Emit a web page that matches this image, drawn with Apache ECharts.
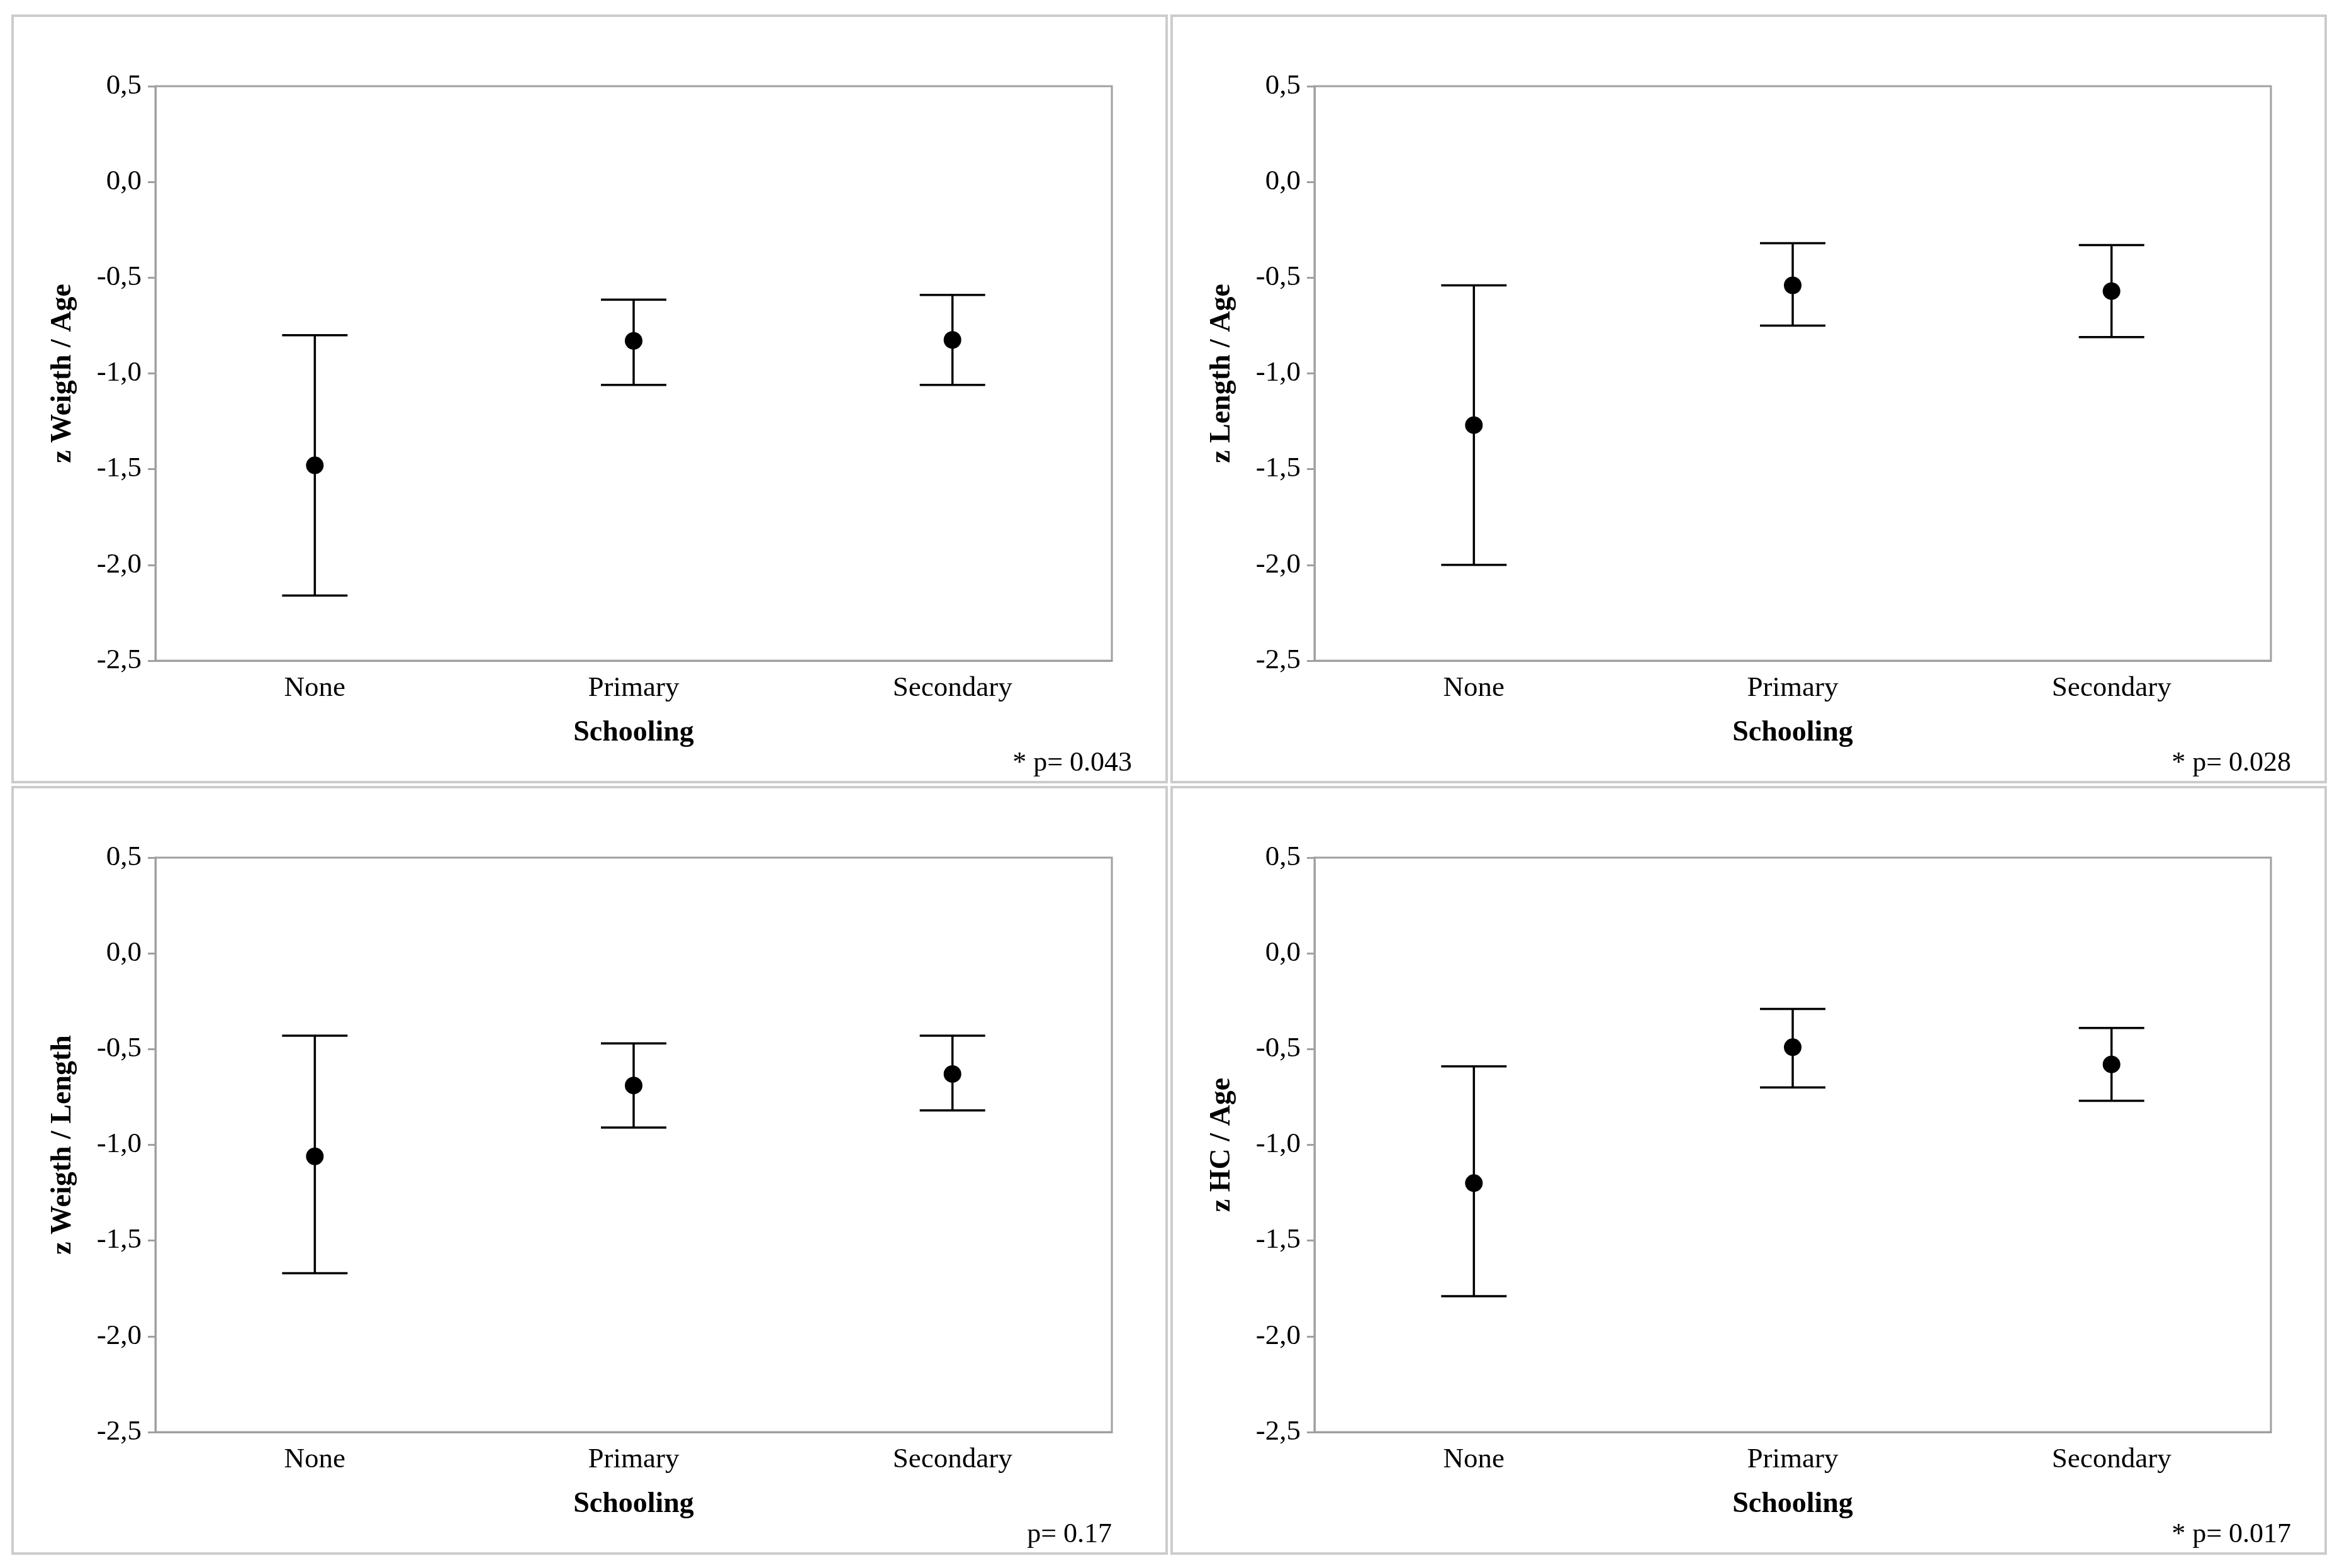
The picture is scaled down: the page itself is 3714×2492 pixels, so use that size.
<!DOCTYPE html>
<html>
<head>
<meta charset="utf-8">
<script src="https://cdn.jsdelivr.net/npm/echarts@6/dist/echarts.min.js"></script>
<style>
  html, body { margin: 0; padding: 0; background: #fff; }
  #chart { width: 3714px; height: 2492px; }
</style>
</head>
<body>
<div id="chart"></div>
<script>
// categories and y ticks
const categories = ['None', 'Primary', 'Secondary'];
const yMin = -2.5;
const yMax = 0.5;
const yStep = 0.5;

// z Weigth / Age
const weightAgeMean = [-1.48, -0.83, -0.825];
const weightAgeLow = [-2.16, -1.06, -1.06];
const weightAgeHigh = [-0.80, -0.615, -0.59];

// z Length / Age
const lengthAgeMean = [-1.27, -0.54, -0.57];
const lengthAgeLow = [-2.00, -0.75, -0.81];
const lengthAgeHigh = [-0.54, -0.32, -0.33];

// z Weigth / Length
const weightLengthMean = [-1.06, -0.69, -0.63];
const weightLengthLow = [-1.67, -0.91, -0.82];
const weightLengthHigh = [-0.43, -0.47, -0.43];

// z HC / Age
const hcAgeMean = [-1.20, -0.49, -0.58];
const hcAgeLow = [-1.79, -0.70, -0.77];
const hcAgeHigh = [-0.59, -0.29, -0.39];

const panelNames = ['z Weigth / Age', 'z Length / Age', 'z Weigth / Length', 'z HC / Age'];
const panelNotes = ['* p= 0.043', '* p= 0.028', 'p= 0.17', '* p= 0.017'];
const panelData = [
  [weightAgeMean, weightAgeLow, weightAgeHigh],
  [lengthAgeMean, lengthAgeLow, lengthAgeHigh],
  [weightLengthMean, weightLengthLow, weightLengthHigh],
  [hcAgeMean, hcAgeLow, hcAgeHigh]
];

const FONT = '"Liberation Serif", "Times New Roman", serif';
const AXIS_GRAY = '#a0a0a0';
const CAP_HALF = 52;

const chart = echarts.init(document.getElementById('chart'));

const grids = [], xAxes = [], yAxes = [], series = [], graphics = [];

panelData.forEach(function (d, i) {
  const col = i % 2, row = Math.floor(i / 2);
  const px = 18 + col * 1842;
  const py = 23 + row * 1226;

  graphics.push({
    type: 'rect', silent: true,
    shape: { x: px + 2, y: py + 2, width: 1834, height: 1218 },
    style: { fill: null, stroke: '#cccccc', lineWidth: 4 }
  });
  graphics.push({
    type: 'text', silent: true,
    x: i === 2 ? px + 1749 : px + 1781,
    y: py + 1190,
    style: {
      text: panelNotes[i], font: '44px ' + FONT, fill: '#000',
      align: 'right', verticalAlign: 'middle'
    }
  });

  grids.push({
    left: px + 229, top: py + 114, width: 1520, height: 913,
    show: true, borderColor: AXIS_GRAY, borderWidth: 3, backgroundColor: '#fff'
  });

  xAxes.push({
    type: 'category', gridIndex: i, data: categories,
    name: 'Schooling', nameLocation: 'middle', nameGap: 92,
    nameTextStyle: { fontFamily: FONT, fontSize: 46, fontWeight: 'bold', color: '#000' },
    axisLine: { onZero: false, lineStyle: { color: AXIS_GRAY, width: 3 } },
    axisTick: { alignWithLabel: true, length: 12, lineStyle: { color: AXIS_GRAY, width: 3 } },
    axisLabel: { fontFamily: FONT, fontSize: 45, color: '#000', margin: 22 },
    splitLine: { show: false }
  });

  yAxes.push({
    type: 'value', gridIndex: i, min: yMin, max: yMax, interval: yStep,
    name: panelNames[i], nameLocation: 'middle', nameGap: 124,
    nameTextStyle: { fontFamily: FONT, fontSize: 46, fontWeight: 'bold', color: '#000' },
    axisLine: { show: true, onZero: false, lineStyle: { color: AXIS_GRAY, width: 3 } },
    axisTick: { show: true, length: 12, lineStyle: { color: AXIS_GRAY, width: 3 } },
    axisLabel: {
      fontFamily: FONT, fontSize: 45, color: '#000', margin: 22,
      formatter: function (v) { return v.toFixed(1).replace('.', ','); }
    },
    splitLine: { show: false }
  });

  const rows = categories.map(function (c, k) {
    return [k, d[0][k], d[1][k], d[2][k]];
  });

  series.push({
    type: 'custom', xAxisIndex: i, yAxisIndex: i,
    encode: { x: 0, y: [1, 2, 3] },
    data: rows,
    renderItem: function (params, api) {
      const cat = api.value(0);
      const pMean = api.coord([cat, api.value(1)]);
      const yLow = api.coord([cat, api.value(2)])[1];
      const yHigh = api.coord([cat, api.value(3)])[1];
      const x = pMean[0];
      const st = { stroke: '#000', lineWidth: 3.5 };
      return {
        type: 'group',
        children: [
          { type: 'line', shape: { x1: x, y1: yHigh, x2: x, y2: yLow }, style: st },
          { type: 'line', shape: { x1: x - CAP_HALF, y1: yHigh, x2: x + CAP_HALF, y2: yHigh }, style: st },
          { type: 'line', shape: { x1: x - CAP_HALF, y1: yLow, x2: x + CAP_HALF, y2: yLow }, style: st },
          { type: 'circle', shape: { cx: x, cy: pMean[1], r: 14 }, style: { fill: '#000' } }
        ]
      };
    }
  });
});

chart.setOption({
  backgroundColor: '#fff',
  animation: false,
  grid: grids,
  xAxis: xAxes,
  yAxis: yAxes,
  series: series,
  graphic: graphics
});
</script>
</body>
</html>
